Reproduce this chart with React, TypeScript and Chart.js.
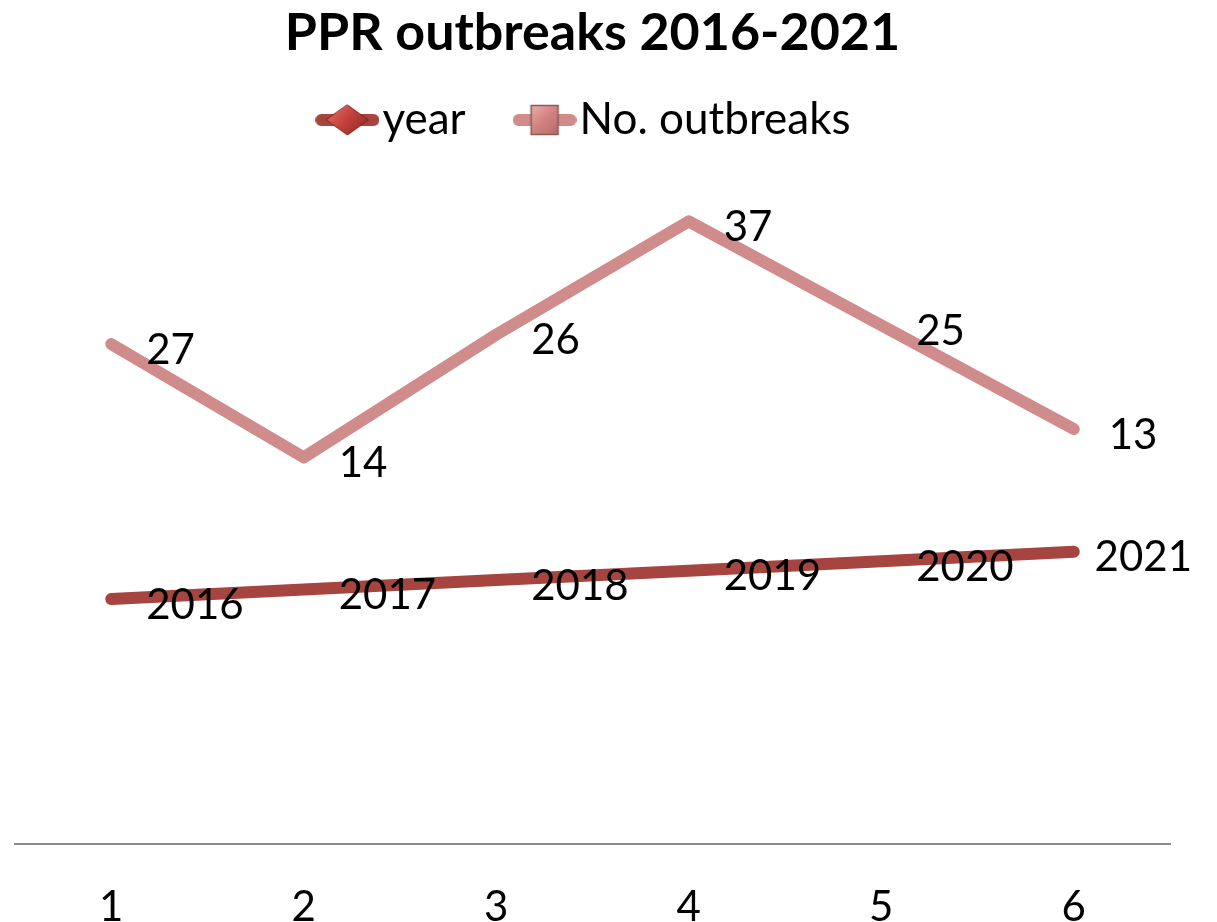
import React, { useEffect, useRef } from "react";
import { Chart, registerables } from "chart.js";

Chart.register(...registerables);

const categories = ["1", "2", "3", "4", "5", "6"];
const yearValues = [2016, 2017, 2018, 2019, 2020, 2021];
const outbreakValues = [27, 14, 26, 37, 25, 13];
const seriesNames = ["year", "No. outbreaks"];
const titleText = "PPR outbreaks 2016-2021";

const YEAR_COLOR = "#A6443F";
const OUT_COLOR = "#CF8C8B";
const FONT = "Lato, 'Open Sans', sans-serif";

function makeLegendIcon(kind: "diamond" | "square"): HTMLCanvasElement {
  const c = document.createElement("canvas");
  c.width = 64;
  c.height = 32;
  const ctx = c.getContext("2d")!;
  ctx.lineCap = "round";
  ctx.lineWidth = 12;
  ctx.strokeStyle = kind === "diamond" ? YEAR_COLOR : OUT_COLOR;
  ctx.beginPath();
  ctx.moveTo(6, 16);
  ctx.lineTo(58, 16);
  ctx.stroke();
  if (kind === "diamond") {
    const g = ctx.createLinearGradient(14, 1, 50, 31);
    g.addColorStop(0, "#E66C64");
    g.addColorStop(0.5, "#C2403A");
    g.addColorStop(1, "#8E2A26");
    ctx.fillStyle = g;
    ctx.beginPath();
    ctx.moveTo(32, 1);
    ctx.lineTo(53, 16);
    ctx.lineTo(32, 31);
    ctx.lineTo(11, 16);
    ctx.closePath();
    ctx.fill();
    ctx.strokeStyle = "#7A2420";
    ctx.lineWidth = 1;
    ctx.stroke();
  } else {
    const g = ctx.createLinearGradient(18, 1, 46, 31);
    g.addColorStop(0, "#EBAEAC");
    g.addColorStop(0.5, "#CF8280");
    g.addColorStop(1, "#B86A68");
    ctx.fillStyle = g;
    ctx.fillRect(18, 1, 28, 30);
    ctx.strokeStyle = "#8A5A58";
    ctx.lineWidth = 1.5;
    ctx.strokeRect(18.5, 1.5, 27, 29);
  }
  return c;
}

const dataLabelPlugin = {
  id: "dataLabels",
  afterDatasetsDraw(chart: any) {
    const ctx = chart.ctx;
    ctx.save();
    ctx.font = `42px ${FONT}`;
    ctx.fillStyle = "#000";
    ctx.textAlign = "left";
    ctx.textBaseline = "middle";
    chart.data.datasets.forEach((ds: any, i: number) => {
      const meta = chart.getDatasetMeta(i);
      meta.data.forEach((pt: any, j: number) => {
        const txt = String(ds.data[j]);
        const w = ctx.measureText(txt).width;
        let x = pt.x + 35;
        x = Math.min(x, chart.width - 25 - w);
        ctx.fillText(txt, x, pt.y + 6);
      });
    });
    ctx.restore();
  },
};

export default function App() {
  const ref = useRef<HTMLCanvasElement>(null);
  useEffect(() => {
    document.body.style.margin = "0";
    const icons = [makeLegendIcon("diamond"), makeLegendIcon("square")];
    const chart = new Chart(ref.current!, {
      type: "line",
      data: {
        labels: categories,
        datasets: [
          {
            label: seriesNames[0],
            data: yearValues,
            borderColor: YEAR_COLOR,
            backgroundColor: YEAR_COLOR,
            borderWidth: 12,
            borderCapStyle: "round",
            borderJoinStyle: "round",
            pointRadius: 0,
            fill: false,
          },
          {
            label: seriesNames[1],
            data: outbreakValues,
            borderColor: OUT_COLOR,
            backgroundColor: OUT_COLOR,
            borderWidth: 12,
            borderCapStyle: "round",
            borderJoinStyle: "round",
            pointRadius: 0,
            fill: false,
          },
        ],
      },
      options: {
        animation: false,
        responsive: false,
        layout: { padding: { left: 15, right: 47, top: 0, bottom: -48 } },
        plugins: {
          title: {
            display: true,
            text: titleText,
            color: "#000",
            font: { family: FONT, size: 52, weight: "bold" },
            padding: { top: 2, bottom: -32.4 },
          },
          legend: {
            display: true,
            labels: {
              usePointStyle: true,
              pointStyleWidth: 26,
              color: "#000",
              font: { family: FONT, size: 44 },
              padding: 66,
              generateLabels: (chart: any) =>
                chart.data.datasets.map((ds: any, i: number) => ({
                  text: ds.label,
                  pointStyle: icons[i],
                  fillStyle: ds.borderColor,
                  strokeStyle: ds.borderColor,
                  lineWidth: 0,
                  hidden: false,
                  datasetIndex: i,
                  fontColor: "#000",
                })),
            },
          },
          tooltip: { enabled: false },
        },
        scales: {
          x: {
            offset: true,
            grid: { display: false, drawTicks: false },
            border: { display: true, color: "#8C8C8C", width: 2 },
            ticks: {
              color: "#000",
              font: { family: FONT, size: 42, lineHeight: 0.8 },
              padding: 46,
            },
          },
          y: {
            display: false,
            stacked: true,
            min: 1990,
            max: 2063.35,
          },
        },
      },
      plugins: [dataLabelPlugin],
    });
    return () => chart.destroy();
  }, []);
  return <canvas ref={ref} width={1217} height={922} style={{ display: "block" }} />;
}
